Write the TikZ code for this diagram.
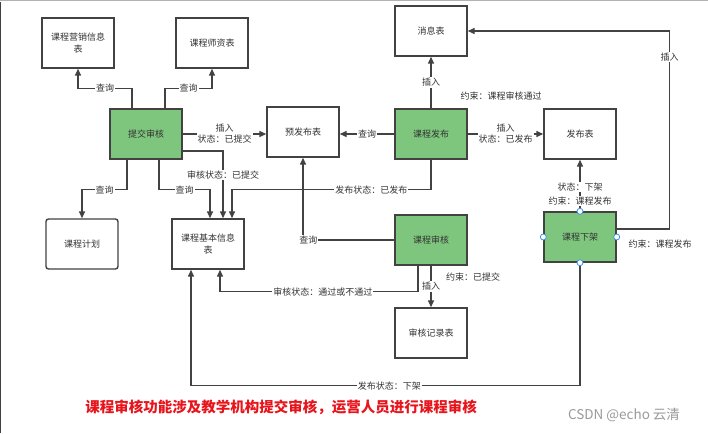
\documentclass[tikz,border=0pt]{standalone}
\usepackage{fontspec}
\setmainfont{Noto Sans CJK SC}
\usetikzlibrary{arrows.meta}
\definecolor{lineC}{HTML}{424242}
\definecolor{greenF}{HTML}{7EC67E}
\definecolor{txtC}{HTML}{333333}
\definecolor{redT}{HTML}{E8141B}
\definecolor{handleC}{HTML}{3D8FE8}
\definecolor{wmC}{HTML}{9A9A9A}
\begin{document}
\begin{tikzpicture}[x=1pt,y=-1pt,
  box/.style={draw=lineC, line width=1.4pt, minimum width=72pt, minimum height=50pt, inner sep=0pt,
    font=\fontsize{9}{12}\selectfont, text=txtC, align=center, fill=white},
  gbox/.style={box, fill=greenF},
  conn/.style={draw=lineC, line width=1.4pt, -{Triangle[length=7pt,width=6pt]}},
  plain/.style={draw=lineC, line width=1.4pt},
  lab/.style={fill=white, inner sep=1pt, font=\fontsize{9}{11}\selectfont, text=txtC, align=center},
  freelab/.style={inner sep=1pt, font=\fontsize{9}{11}\selectfont, text=txtC, align=center},
  handle/.style={circle, draw=handleC, fill=white, line width=0.8pt, minimum size=6pt, inner sep=0pt},
]
\useasboundingbox (0,0) rectangle (708,433);
\fill[white] (0,0) rectangle (708,433);
% frame edges of the screenshot
\draw[gray!60, line width=1pt] (0,0.5) -- (708,0.5);
\draw[black!75, line width=1.2pt] (0.6,2) -- (0.6,433);

% nodes
\node[box] (mkt) at (78,43) {课程营销信息\\表};
\node[box] (teach) at (212,43) {课程师资表};
\node[box] (msg) at (431,31) {消息表};
\node[gbox] (submit) at (146,134) {提交审核};
\node[box] (pre) at (303,132) {预发布表};
\node[gbox] (pub) at (431,134) {课程发布};
\node[box] (pubt) at (580,134) {发布表};
\node[box, rounded corners=2.5pt] (plan) at (82,244) {课程计划};
\node[box] (basic) at (208,244) {课程基本信息\\表};
\node[gbox] (audit) at (431,240) {课程审核};
\node[gbox] (off) at (580,237) {课程下架};
\node[box] (rec) at (431,333) {审核记录表};

% connectors from 提交审核
\draw[conn] ([xshift=-14pt]submit.north) -- ++(0,-20) -| node[lab,pos=0.25]{查询} (mkt.south);
\draw[conn] ([xshift=19pt]submit.north) -- ++(0,-20) -| node[lab,pos=0.25]{查询} (teach.south);
\draw[conn] (submit.east) -- node[lab]{插入\\状态：已提交} (submit.east -| pre.west);
\draw[conn] ([yshift=-17pt]submit.east) -| node[lab,pos=0.68]{审核状态：已提交} ([xshift=15pt]basic.north);
\draw[conn] ([xshift=-19pt]submit.south) -- ++(0,30) -| node[lab,pos=0.25]{查询} (plan.north);
\draw[conn] ([xshift=13pt]submit.south) -- ++(0,30) -| node[lab,pos=0.25]{查询} ([xshift=2pt]basic.north);

% connectors from 课程发布
\draw[conn] (pub.south) -- ++(0,30) -| node[lab,pos=0.15]{发布状态：已发布} ([xshift=24pt]basic.north);
\draw[conn] (pub.west) -- node[lab]{查询} (pub.west -| pre.east);
\draw[conn] (pub.north) -- node[lab]{插入} (msg.south);
\node[freelab] at (501,96) {约束：课程审核通过};
\draw[conn] (pub.east) -- node[lab]{插入\\状态：已发布} (pubt.west);

% connectors from 课程审核
\draw[conn] (audit.west) -| node[lab,pos=0.47]{查询} (pre.south);
\draw[conn] ([xshift=-13pt]audit.south) -- ++(0,26) -| node[lab,pos=0.24]{审核状态：通过或不通过} ([xshift=12pt]basic.south);
\draw[conn] (audit.south) -- node[lab]{插入} (rec.north);
\node[freelab] at (473,277) {约束：已提交};

% connectors from 课程下架
\draw[conn] (off.north) -- node[lab,pos=0.47]{状态：下架} node[lab,pos=0.2]{约束：课程发布} (pubt.south);
\draw[conn] ([yshift=8pt]off.east) -- ++(53,0) |- node[lab,pos=0.434]{插入} (msg.east);
\node[freelab] at (660,244) {约束：课程发布};
\draw[conn] (off.south) -- ++(0,123) -| node[lab,pos=0.245]{发布状态：下架} ([xshift=-17pt]basic.south);

% selection handles
\foreach \a in {north,south,east,west}
  \node[handle] (h\a) at (off.\a) {};

% caption and watermark
\node[text=redT, font=\fontsize{14.5}{17}\selectfont\bfseries] (cap) at (281,407) {课程审核功能涉及教学机构提交审核，运营人员进行课程审核};
\node[text=wmC, font=\fontsize{13.5}{15}\selectfont] (wm) at (624,415) {CSDN @echo 云清};
\end{tikzpicture}
\end{document}
